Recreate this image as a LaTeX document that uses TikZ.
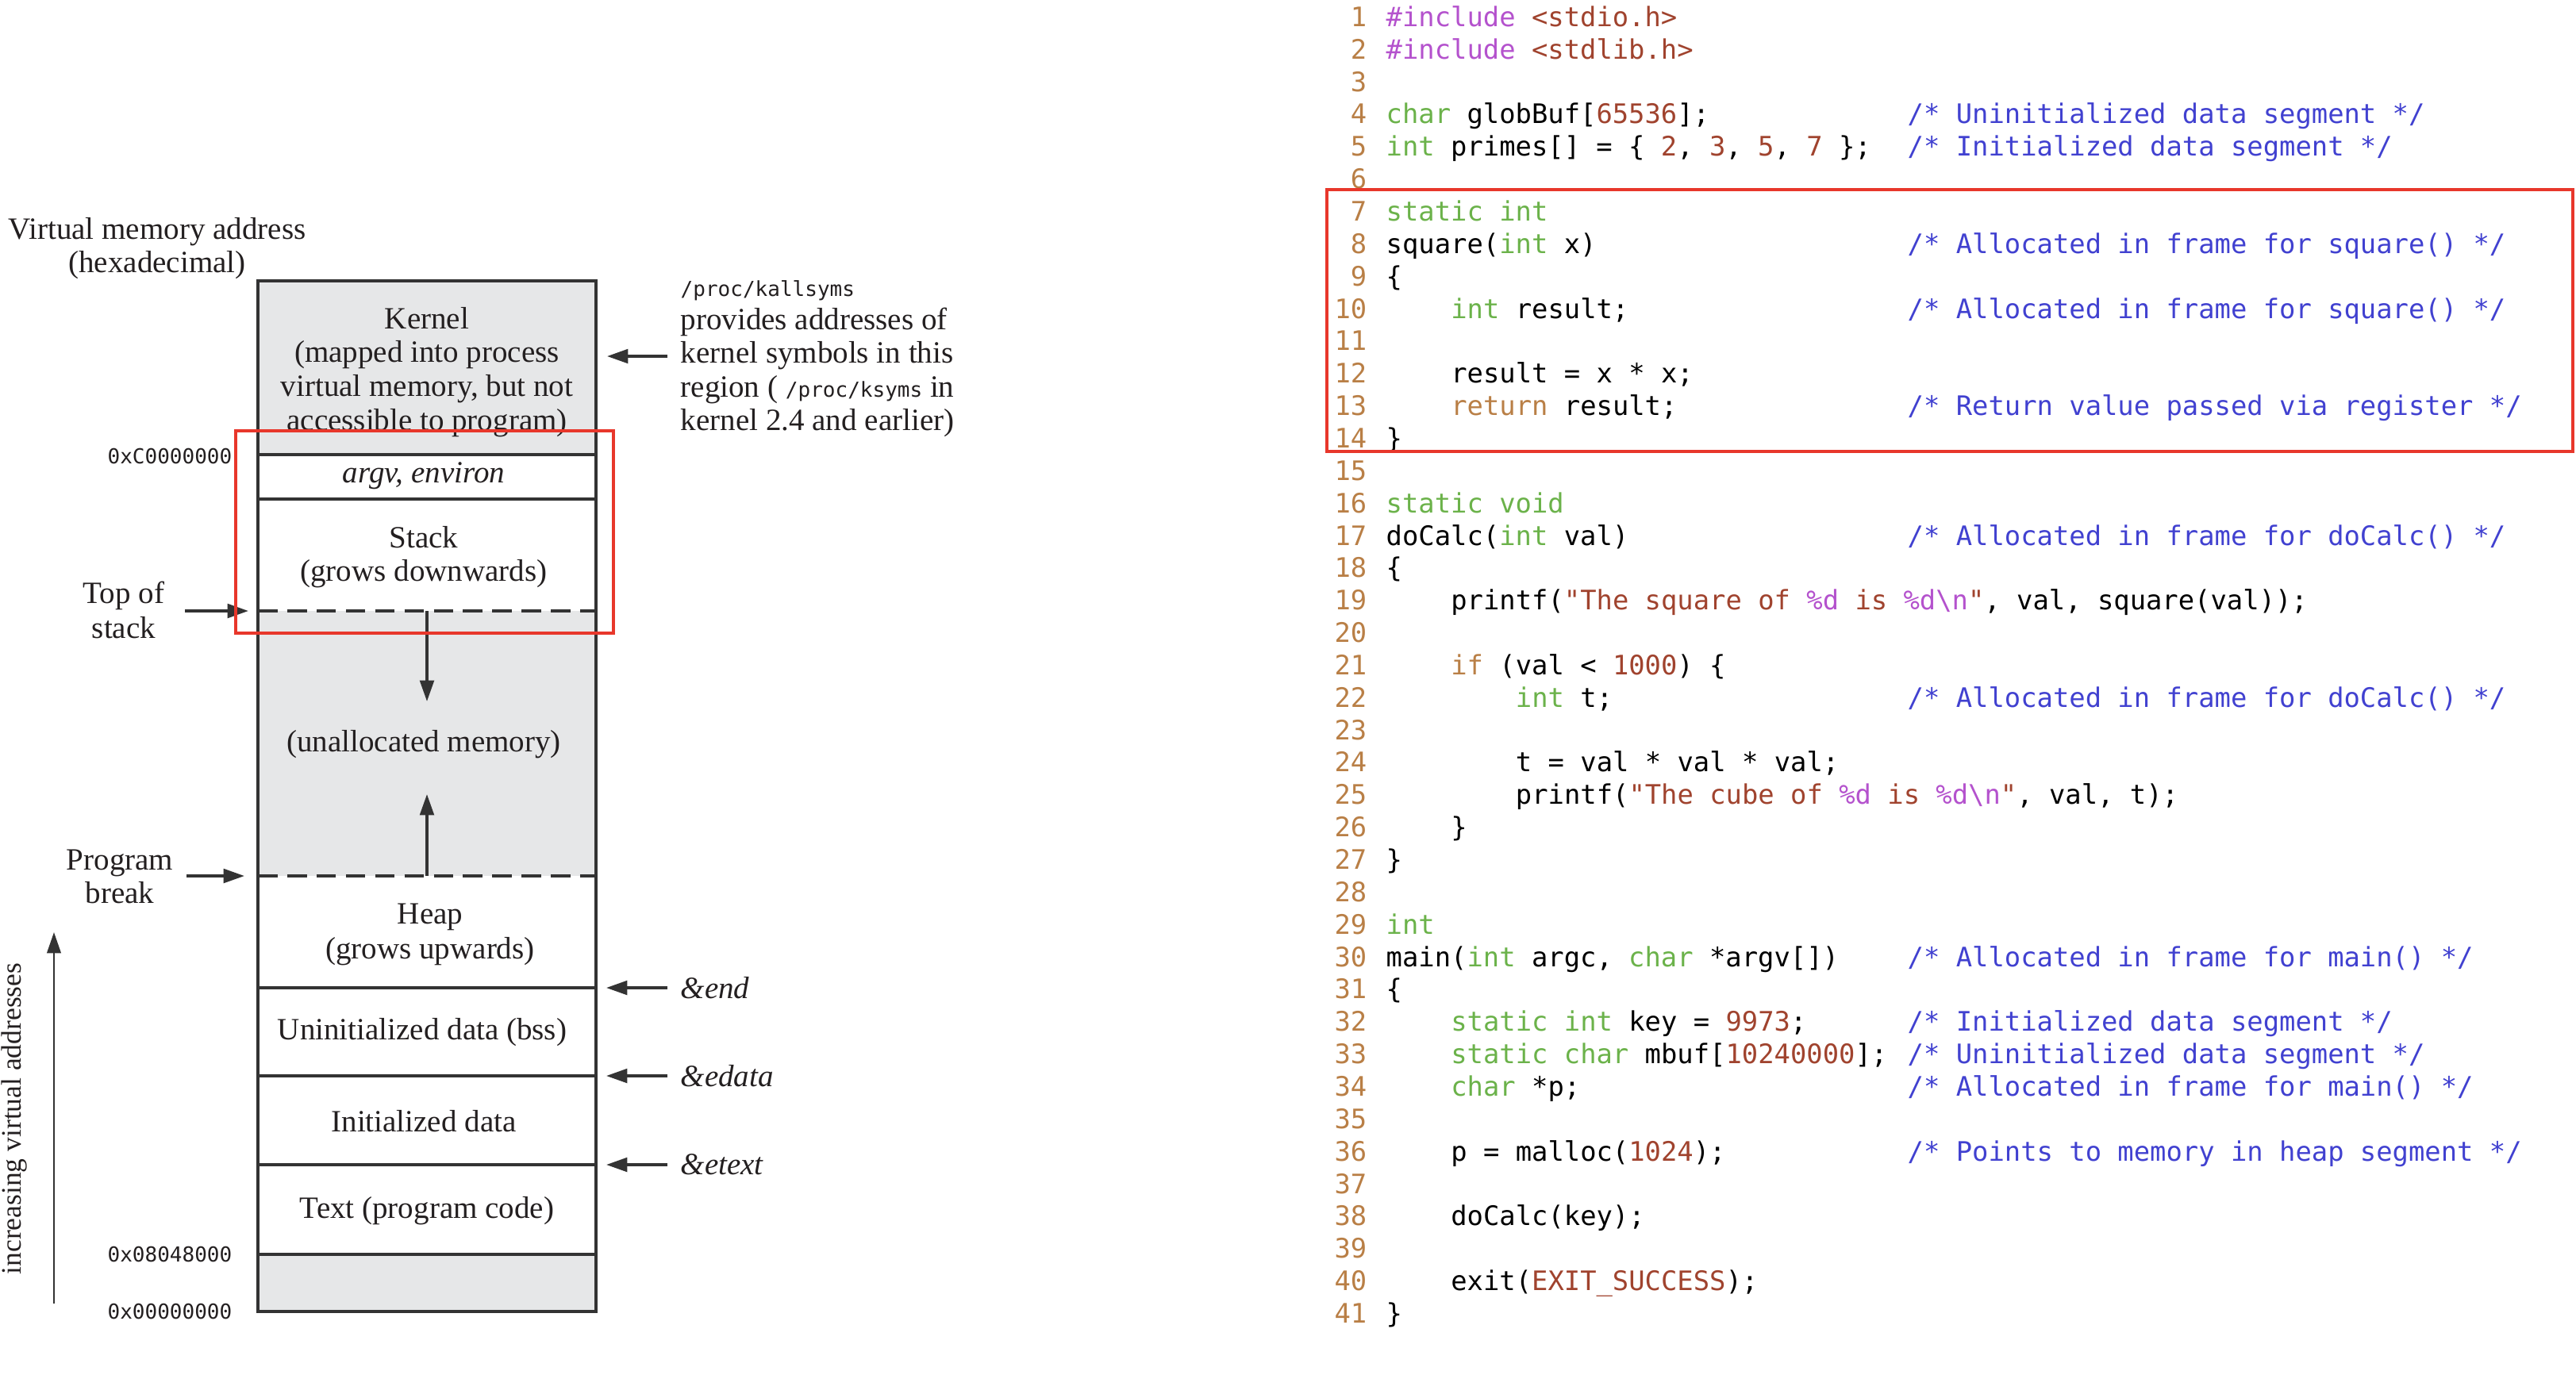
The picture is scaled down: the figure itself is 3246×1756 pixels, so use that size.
\documentclass[tikz,border=0pt]{standalone}
\usepackage{fontspec}
\setmainfont{Liberation Serif}
\newfontfamily\codefont{DejaVu Sans Mono}
\usetikzlibrary{arrows.meta}
\definecolor{cnum}{HTML}{B97F46}
\definecolor{cgreen}{HTML}{6BB24A}
\definecolor{cpurp}{HTML}{B452CD}
\definecolor{cstr}{HTML}{A0432E}
\definecolor{ccmt}{HTML}{4141D0}
\definecolor{cred}{HTML}{E8372B}
\definecolor{cgray}{HTML}{E6E7E8}
\definecolor{cline}{HTML}{333333}
\definecolor{ctext}{HTML}{231F20}
\newcommand\hlG[1]{{\color{cgreen}\relax#1}}
\newcommand\hlP[1]{{\color{cpurp}\relax#1}}
\newcommand\hlS[1]{{\color{cstr}\relax#1}}
\newcommand\hlO[1]{{\color{cnum}\relax#1}}
\newcommand\addrfont{\codefont\fontsize{7.4}{9}\selectfont}
\newcommand\cl[3]{\node[code] (c#1) at ({1746+#2*20.4},{33.4+(#1-1)*40.85}) {#3};}
\newcommand\cmtline[2]{\node[cmt] (m#1) at (2403,{33.4+(#1-1)*40.85}) {/* #2 */};}
\begin{document}
\begin{tikzpicture}[x=0.01cm,y=-0.01cm,
  lbl/.style={font=\fontsize{11.1}{12}\selectfont, inner sep=0pt, text=ctext},
  addr/.style={font=\addrfont, inner sep=0pt, anchor=east, text=ctext},
  code/.style={font=\codefont\fontsize{9.62}{11.6}\selectfont\frenchspacing, inner sep=0pt, anchor=base west, text=black},
  lnum/.style={code, anchor=base east, text=cnum},
  cmt/.style={code, text=ccmt},
  seg/.style={line width=1.1pt, draw=cline},
  dsh/.style={seg, dash pattern=on 7pt off 3.5pt},
  arr/.style={line width=1pt, draw=cline, -{Triangle[length=7.5pt,width=5pt]}},
  hilite/.style={draw=cred, line width=1.2pt},
]
\useasboundingbox (0,0) rectangle (3246,1756);

% ---------- memory layout ----------
\fill[cgray] (325,354) rectangle (751,573);
\fill[cgray] (325,770) rectangle (751,1104);
\fill[cgray] (325,1581) rectangle (751,1653);
\foreach \yy in {573,629,1245,1356,1468,1581} \draw[seg] (325,\yy) -- (751,\yy);
\draw[dsh] (325,770) -- (751,770);
\draw[dsh] (325,1104) -- (751,1104);
\draw[seg, line width=1.3pt] (325,354) rectangle (751,1653);

\node[lbl, align=center] (vma) at (198,313) {Virtual memory address\\(hexadecimal)};
\node[lbl, align=center, font=\fontsize{11.1}{12.2}\selectfont] (kern) at (538,469) {Kernel\\(mapped into process\\virtual memory, but not\\accessible to program)};
\node[lbl] (argv) at (534,600) {\itshape argv, environ};
\node[lbl, align=center] (stack) at (534,702) {Stack\\(grows downwards)};
\node[lbl] (unal) at (534,938) {(unallocated memory)};
\node[lbl, align=center, font=\fontsize{11.1}{12.5}\selectfont] (heap) at (542,1178) {Heap\\(grows upwards)};
\node[lbl] (bss) at (532,1301) {Uninitialized data (bss)};
\node[lbl] (idata) at (534,1413) {Initialized data};
\node[lbl] (ptext) at (538,1526) {Text (program code)};
\node[lbl, align=center, font=\fontsize{11.1}{12.5}\selectfont] (tos) at (156,769) {Top of\\stack};
\node[lbl, align=center] (pbrk) at (151,1105) {Program\\break};
\node[addr] (a1) at (293,575) {0xC0000000};
\node[addr] (a2) at (293,1581) {0x08048000};
\node[addr] (a3) at (293,1653) {0x00000000};
\node[lbl, align=left, anchor=west, font=\fontsize{11.1}{12}\selectfont] (ksym) at (857,452)
  {{\addrfont /proc/kallsyms}\\provides addresses of\\kernel symbols in this\\region ( {\addrfont /proc/ksyms} in\\kernel 2.4 and earlier)};
\node[lbl, anchor=west] (eend) at (857,1245) {\itshape\&end};
\node[lbl, anchor=west] (eedata) at (857,1356) {\itshape\&edata};
\node[lbl, anchor=west] (eetext) at (857,1468) {\itshape\&etext};
\node[lbl, rotate=90, font=\fontsize{10.1}{12}\selectfont] (iva) at (18,1410) {increasing virtual addresses};

\coordinate (sdS) at (538,770);  \coordinate (sdT) at (538,884);
\coordinate (huS) at (538,1104); \coordinate (huT) at (538,1001);
\coordinate (tosS) at (233,770); \coordinate (tosT) at (313,770);
\coordinate (pbS) at (235,1104); \coordinate (pbT) at (308,1104);
\coordinate (kT) at (765,449);
\coordinate (eendT) at (764,1245);
\coordinate (eedataT) at (764,1356);
\coordinate (eetextT) at (764,1468);
\coordinate (ivaB) at (68,1643); \coordinate (ivaT) at (68,1175);
\draw[arr] (sdS) -- (sdT);
\draw[arr] (huS) -- (huT);
\draw[arr] (tosS) -- (tosT);
\draw[arr] (pbS) -- (pbT);
\draw[arr] ([xshift=-0.16cm]ksym.west |- kT) -- (kT);
\draw[arr] ([xshift=-0.16cm]eend.west) -- (eendT);
\draw[arr] ([xshift=-0.16cm]eedata.west) -- (eedataT);
\draw[arr] ([xshift=-0.16cm]eetext.west) -- (eetextT);
\draw[arr, line width=0.7pt] (ivaB) -- (ivaT);

\draw[hilite] (297,543) rectangle (773,798);

% ---------- code ----------
\foreach \i in {1,...,41} \node[lnum] (n\i) at (1723,{33.4+(\i-1)*40.85}) {\i};
\cl{1}{0}{\hlP{\#include} \hlS{<stdio.h>}}
\cl{2}{0}{\hlP{\#include} \hlS{<stdlib.h>}}
\cl{4}{0}{\hlG{char} globBuf[\hlS{65536}];}
\cl{5}{0}{\hlG{int} primes[] = \{ \hlS{2}, \hlS{3}, \hlS{5}, \hlS{7} \};}
\cl{7}{0}{\hlG{static int}}
\cl{8}{0}{square(\hlG{int} x)}
\cl{9}{0}{\{}
\cl{10}{4}{\hlG{int} result;}
\cl{12}{4}{result = x * x;}
\cl{13}{4}{\hlO{return} result;}
\cl{14}{0}{\}}
\cl{16}{0}{\hlG{static void}}
\cl{17}{0}{doCalc(\hlG{int} val)}
\cl{18}{0}{\{}
\cl{19}{4}{printf(\hlS{"The square of }\hlP{\%d}\hlS{ is }\hlP{\%d\textbackslash n}\hlS{"}, val, square(val));}
\cl{21}{4}{\hlO{if} (val < \hlS{1000}) \{}
\cl{22}{8}{\hlG{int} t;}
\cl{24}{8}{t = val * val * val;}
\cl{25}{8}{printf(\hlS{"The cube of }\hlP{\%d}\hlS{ is }\hlP{\%d\textbackslash n}\hlS{"}, val, t);}
\cl{26}{4}{\}}
\cl{27}{0}{\}}
\cl{29}{0}{\hlG{int}}
\cl{30}{0}{main(\hlG{int} argc, \hlG{char} *argv[])}
\cl{31}{0}{\{}
\cl{32}{4}{\hlG{static int} key = \hlS{9973};}
\cl{33}{4}{\hlG{static char} mbuf[\hlS{10240000}];}
\cl{34}{4}{\hlG{char} *p;}
\cl{36}{4}{p = malloc(\hlS{1024});}
\cl{38}{4}{doCalc(key);}
\cl{40}{4}{exit(\hlS{EXIT\_SUCCESS});}
\cl{41}{0}{\}}
\cmtline{4}{Uninitialized data segment}
\cmtline{5}{Initialized data segment}
\cmtline{8}{Allocated in frame for square()}
\cmtline{10}{Allocated in frame for square()}
\cmtline{13}{Return value passed via register}
\cmtline{17}{Allocated in frame for doCalc()}
\cmtline{22}{Allocated in frame for doCalc()}
\cmtline{30}{Allocated in frame for main()}
\cmtline{32}{Initialized data segment}
\cmtline{33}{Uninitialized data segment}
\cmtline{34}{Allocated in frame for main()}
\cmtline{36}{Points to memory in heap segment}

\draw[hilite] (1672,239) rectangle (3242,569);
\end{tikzpicture}
\end{document}
